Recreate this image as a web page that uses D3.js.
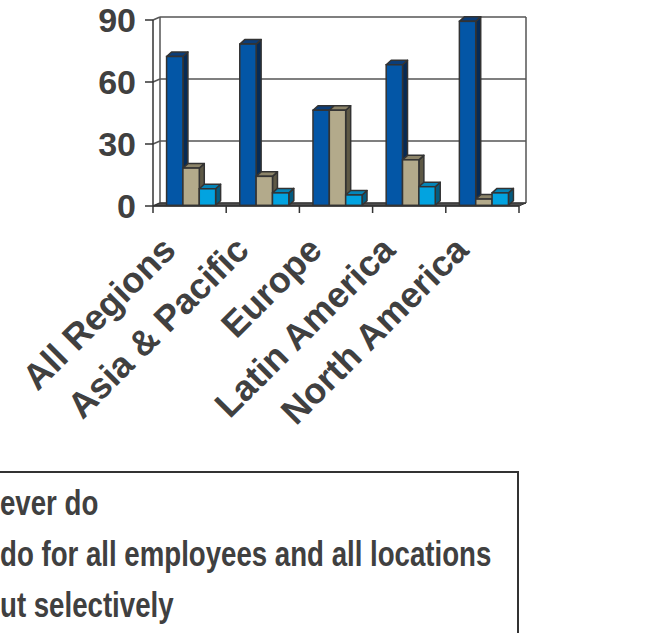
<!DOCTYPE html>
<html>
<head>
<meta charset="utf-8">
<script src="https://cdn.jsdelivr.net/npm/d3@7"></script>
<style>
  html, body { margin: 0; padding: 0; background: #ffffff; overflow: hidden; }
  svg { display: block; }
  text { font-family: "Liberation Sans", Arial, sans-serif; font-weight: bold; fill: #404040; }
</style>
</head>
<body>
<svg id="chart" width="651" height="633"></svg>
<script>
// Regions along the x axis
const categories = ["All Regions", "Asia & Pacific", "Europe", "Latin America", "North America"];

// Series values (percent of respondents)
const neverDo      = [72, 78, 46, 68, 89];
const allLocations = [18, 14, 46, 22, 3];
const selectively  = [8, 6, 5, 9, 6];

// Legend entries, in series order
const seriesNames = ["ever do", "do for all employees and all locations", "ut selectively"];

// Value axis ticks
const yTicks = [0, 30, 60, 90];

// Face colours per series: front, side, top
const seriesColors = [
  { front: "#0356a6", side: "#062a55", top: "#0b3d78" },
  { front: "#b3aa8b", side: "#5d5845", top: "#8c8469" },
  { front: "#02a3e0", side: "#045b80", top: "#0485b8" }
];

const series = [neverDo, allLocations, selectively];

const svg = d3.select("#chart");

// Front plane of the plot
const x0 = 153, x1 = 519;
const x = d3.scaleBand().domain(categories).range([x0, x1]).paddingInner(0.33).paddingOuter(0.165);
const xs = d3.scaleBand().domain(d3.range(series.length)).range([0, x.bandwidth()]);
const y = d3.scaleLinear().domain([0, 90]).range([206, 20]);

// Depth offsets: walls, bar set-back, bar thickness
const wall = { dx: 7, dy: -3 };
const inset = { dx: 1.5, dy: -0.7 };
const depth = { dx: 5, dy: -4.5 };

const lineCol = "#555555";
const edgeCol = "#333333";

const plot = svg.append("g");

// Back wall gridlines
plot.selectAll("line.grid").data(yTicks).join("line")
  .attr("class", "grid")
  .attr("x1", x0 + wall.dx).attr("x2", x1 + wall.dx)
  .attr("y1", d => y(d) + wall.dy).attr("y2", d => y(d) + wall.dy)
  .attr("stroke", lineCol).attr("stroke-width", 1.5);

// Gridlines crossing the side wall
plot.selectAll("line.side").data(yTicks).join("line")
  .attr("class", "side")
  .attr("x1", x0).attr("x2", x0 + wall.dx)
  .attr("y1", d => y(d)).attr("y2", d => y(d) + wall.dy)
  .attr("stroke", lineCol).attr("stroke-width", 1.5);

// Wall edges
const yTop = y(d3.max(yTicks)), yBot = y(0);
plot.append("line")
  .attr("x1", x0 + wall.dx).attr("x2", x0 + wall.dx)
  .attr("y1", yTop + wall.dy).attr("y2", yBot + wall.dy)
  .attr("stroke", lineCol).attr("stroke-width", 1.5);
plot.append("line")
  .attr("x1", x1 + wall.dx).attr("x2", x1 + wall.dx)
  .attr("y1", yTop + wall.dy).attr("y2", yBot + wall.dy)
  .attr("stroke", lineCol).attr("stroke-width", 1.5);

// Floor
plot.append("path")
  .attr("d", `M${x0},${yBot} L${x1},${yBot} L${x1 + wall.dx},${yBot + wall.dy} L${x0 + wall.dx},${yBot + wall.dy} Z`)
  .attr("fill", "#4d4d4d").attr("stroke", edgeCol).attr("stroke-width", 1);

// Value axis line and ticks
plot.append("line")
  .attr("x1", x0).attr("x2", x0).attr("y1", yTop).attr("y2", yBot)
  .attr("stroke", edgeCol).attr("stroke-width", 1.5);
plot.selectAll("line.ytick").data(yTicks).join("line")
  .attr("class", "ytick")
  .attr("x1", x0 - 8).attr("x2", x0)
  .attr("y1", d => y(d)).attr("y2", d => y(d))
  .attr("stroke", edgeCol).attr("stroke-width", 1.5);
plot.selectAll("text.ylab").data(yTicks).join("text")
  .attr("class", "ylab")
  .attr("x", 136).attr("y", d => y(d) + 12)
  .attr("text-anchor", "end")
  .style("font-size", "34px")
  .text(d => d);

// Category axis ticks at band boundaries
const step = x.step();
const xTickPos = d3.range(categories.length + 1).map(i => x0 + i * step);
plot.append("line")
  .attr("x1", x0).attr("x2", x1).attr("y1", yBot).attr("y2", yBot)
  .attr("stroke", edgeCol).attr("stroke-width", 1.5);
plot.selectAll("line.xtick").data(xTickPos).join("line")
  .attr("class", "xtick")
  .attr("x1", d => d).attr("x2", d => d)
  .attr("y1", yBot).attr("y2", yBot + 7)
  .attr("stroke", edgeCol).attr("stroke-width", 1.5);

// 3D columns
const bars = plot.append("g");
categories.forEach((cat, ci) => {
  series.forEach((vals, si) => {
    const v = vals[ci];
    const c = seriesColors[si];
    const bx = x(cat) + xs(si) + inset.dx;
    const bw = xs.bandwidth();
    const by = y(v) + inset.dy;
    const bb = y(0) + inset.dy;
    const g = bars.append("g");
    // side face
    g.append("path")
      .attr("d", `M${bx + bw},${by} L${bx + bw + depth.dx},${by + depth.dy} L${bx + bw + depth.dx},${bb + depth.dy} L${bx + bw},${bb} Z`)
      .attr("fill", c.side).attr("stroke", edgeCol).attr("stroke-width", 1.5).attr("stroke-linejoin", "round");
    // top face
    g.append("path")
      .attr("d", `M${bx},${by} L${bx + depth.dx},${by + depth.dy} L${bx + bw + depth.dx},${by + depth.dy} L${bx + bw},${by} Z`)
      .attr("fill", c.top).attr("stroke", edgeCol).attr("stroke-width", 1.5).attr("stroke-linejoin", "round");
    // front face
    g.append("rect")
      .attr("x", bx).attr("y", by).attr("width", bw).attr("height", bb - by)
      .attr("fill", c.front).attr("stroke", edgeCol).attr("stroke-width", 1.5);
  });
});

// Rotated category labels
plot.selectAll("text.xlab").data(categories).join("text")
  .attr("class", "xlab")
  .attr("text-anchor", "end")
  .attr("transform", d => `translate(${x(d) + x.bandwidth() / 2 - 12},${252}) rotate(-45)`)
  .style("font-size", "36px")
  .text(d => d);

// Legend
const legend = svg.append("g");
legend.append("rect")
  .attr("x", -10).attr("y", 472).attr("width", 528).attr("height", 220)
  .attr("fill", "none").attr("stroke", edgeCol).attr("stroke-width", 2);
const legendY = d3.scalePoint().domain(seriesNames).range([515, 617]);
legend.selectAll("text").data(seriesNames).join("text")
  .attr("transform", d => `translate(0,${legendY(d)}) scale(0.79,1)`)
  .style("font-size", "35px")
  .text(d => d);
</script>
</body>
</html>
